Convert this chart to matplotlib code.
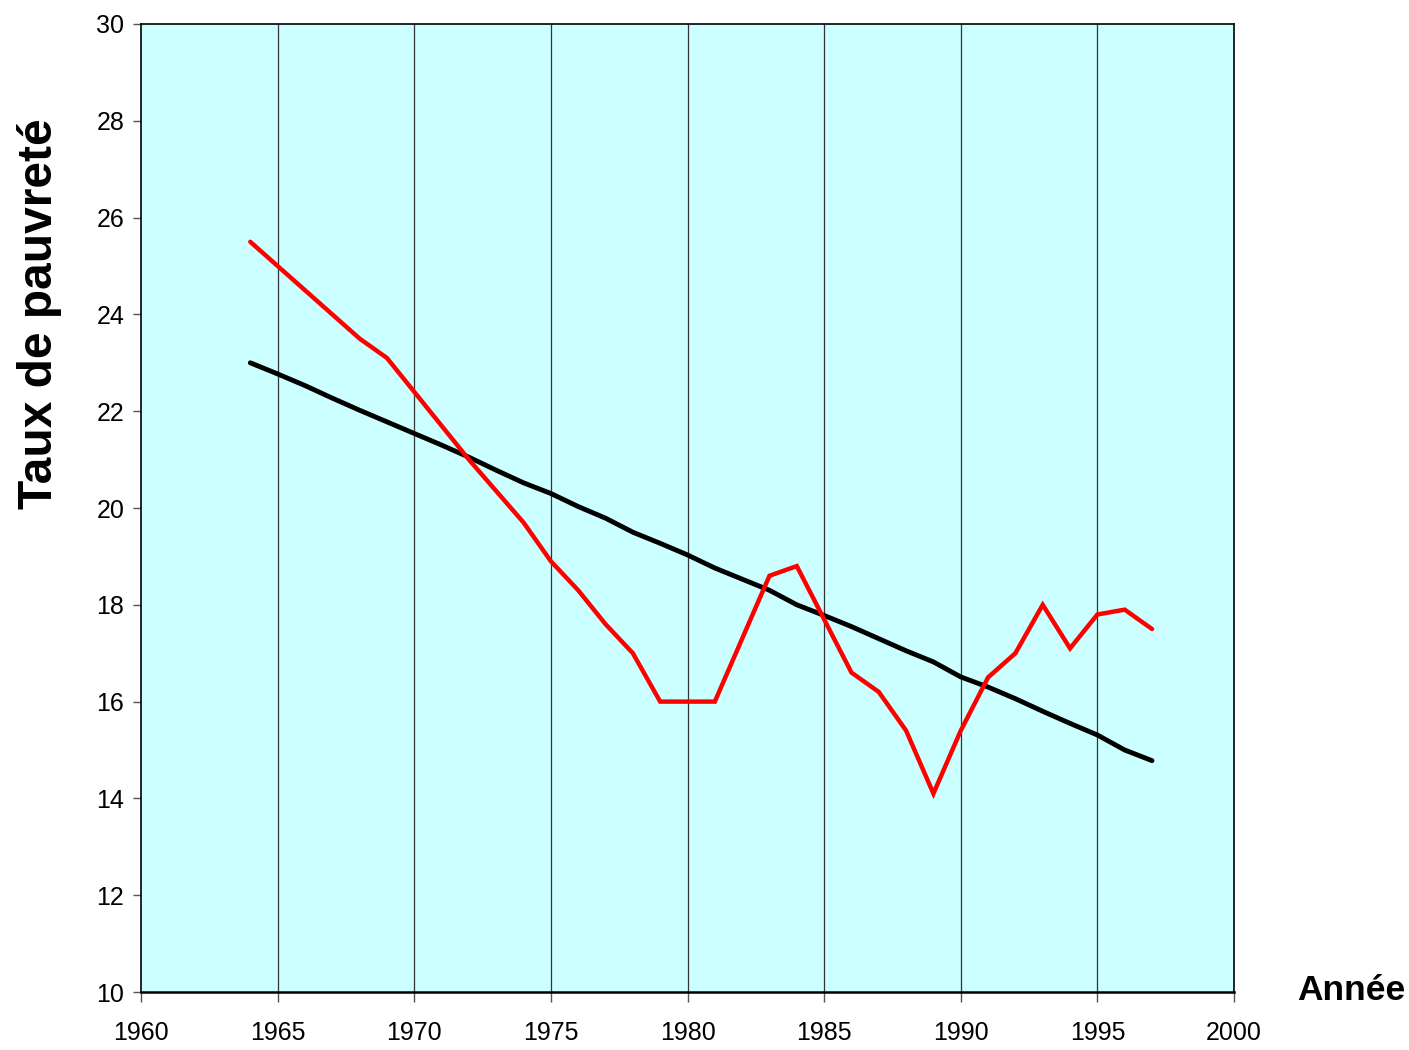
import matplotlib
matplotlib.use("Agg")
import matplotlib.pyplot as plt

# data
years = list(range(1964, 1998))
taux = [25.5, 25.0, 24.5, 24.0, 23.5, 23.1, 22.4, 21.7, 21.0, 20.35, 19.7,
        18.9, 18.3, 17.6, 17.0, 16.0, 16.0, 16.0, 17.3, 18.6, 18.8, 17.7,
        16.6, 16.2, 15.4, 14.1, 15.4, 16.5, 17.0, 18.0, 17.1, 17.8, 17.9, 17.5]
tendance = [23.0, 22.77, 22.53, 22.27, 22.02, 21.78, 21.54, 21.3, 21.05,
            20.78, 20.52, 20.3, 20.03, 19.79, 19.5, 19.27, 19.03, 18.76,
            18.53, 18.3, 18.0, 17.78, 17.55, 17.3, 17.05, 16.82, 16.51,
            16.3, 16.06, 15.8, 15.55, 15.31, 15.0, 14.78]
xticks = list(range(1960, 2001, 5))
yticks = list(range(10, 31, 2))

plt.rcParams["font.family"] = ["Liberation Sans", "DejaVu Sans"]

fig = plt.figure(figsize=(14.09, 10.5), dpi=100)
ax = fig.add_axes([141/1409, 1 - 992/1050, (1234-141)/1409, (992-24)/1050])
ax.set_facecolor("#CCFFFF")

for xv in xticks[1:-1]:
    ax.axvline(xv, color="#333333", lw=0.9, zorder=1)

ax.plot(years, tendance, color="black", lw=3.5, solid_capstyle="round",
        solid_joinstyle="miter", zorder=3)
ax.plot(years, taux, color="#FF0000", lw=3.2, solid_capstyle="round",
        solid_joinstyle="miter", zorder=4)

ax.set_xlim(1960, 2000)
ax.set_ylim(10, 30)
ax.set_xticks(xticks)
ax.set_yticks(yticks)
ax.tick_params(axis="x", direction="out", length=7, width=1, color="#555555",
               pad=14, labelsize=18)
ax.tick_params(axis="y", direction="out", length=6, width=1, color="#555555",
               pad=6, labelsize=18)
for s in ax.spines.values():
    s.set_color("black")
    s.set_linewidth(1.2)
ax.spines["bottom"].set_linewidth(1.8)

fig.text(40/1409, 1 - 314/1050, "Taux de pauvreté", rotation=90,
         ha="center", va="center", fontsize=34.5, fontweight="bold")
fig.text(1297/1409, 1 - 1000/1050, "Année", ha="left", va="baseline",
         fontsize=25.5, fontweight="bold")

fig.savefig("out.png", dpi=100)
